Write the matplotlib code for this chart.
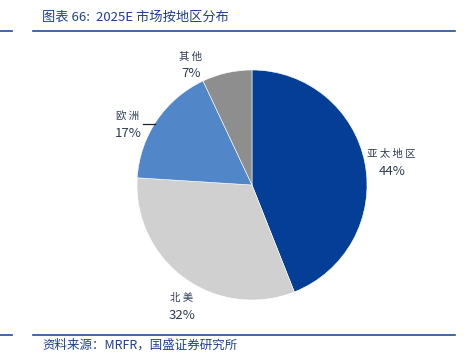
import matplotlib
matplotlib.use("Agg")
import matplotlib.pyplot as plt
import numpy as np
from matplotlib.lines import Line2D

plt.rcParams['font.family'] = ['Noto Sans CJK SC', 'DejaVu Sans']

regions = ["亚太地区", "北美", "欧洲", "其他"]
shares = [44, 32, 17, 7]
colors = ["#043E96", "#D0D0D0", "#5187C8", "#8E8E8E"]

title = "图表 66:  2025E 市场按地区分布"
source = "资料来源：MRFR，国盛证券研究所"

W, H = 468, 362
fig = plt.figure(figsize=(W / 100, H / 100), dpi=100)

# pie axes: center (252,185), radius 115 px
cx, cy, r = 252, 185, 115
ax = fig.add_axes([(cx - r) / W, (H - cy - r) / H, 2 * r / W, 2 * r / H])
wedges, _ = ax.pie(shares, colors=colors, startangle=90, counterclock=False,
                   radius=1.0, wedgeprops=dict(edgecolor="white", linewidth=0.4))
ax.set_xlim(-1, 1)
ax.set_ylim(-1, 1)
ax.set_aspect('equal')
ax.axis('off')

# label positions (distance, angle) relative to pie centre
label_pos = [(1.23, 9), (1.22, -120), (1.2, 154), (1.17, 117)]
txtcol = "#2E3B52"
for w, name, v, (d, ang) in zip(wedges, regions, shares, label_pos):
    a = np.deg2rad(ang)
    x, y = d * np.cos(a), d * np.sin(a)
    ax.text(x, y + 0.075, " ".join(name), ha='center', va='center', fontsize=7.5, color=txtcol)
    ax.text(x, y - 0.075, f"{v}%", ha='center', va='center', fontsize=9.5, color=txtcol)

# leader line for 欧洲
ax.plot([-0.95, -0.84], [0.53, 0.53], color="#222222", lw=0.9, clip_on=False)

line_col = "#1F4E9A"
# title lines
fig.add_artist(Line2D([0, 12 / W], [1 - 31 / H] * 2, color=line_col, lw=1.2))
fig.add_artist(Line2D([33 / W, 455 / W], [1 - 31 / H] * 2, color=line_col, lw=1.2))
fig.text(42 / W, 1 - 17 / H, title, ha='left', va='center', fontsize=9.5,
         color="#1F3F8F", style='italic')
# footer lines
fig.add_artist(Line2D([0, 12 / W], [1 - 335 / H] * 2, color=line_col, lw=1.2))
fig.add_artist(Line2D([33 / W, 455 / W], [1 - 335 / H] * 2, color=line_col, lw=1.2))
fig.text(42 / W, 1 - 345 / H, source, ha='left', va='center', fontsize=9,
         color="#1F3F8F", style='italic')

fig.savefig("out.png", dpi=100)
